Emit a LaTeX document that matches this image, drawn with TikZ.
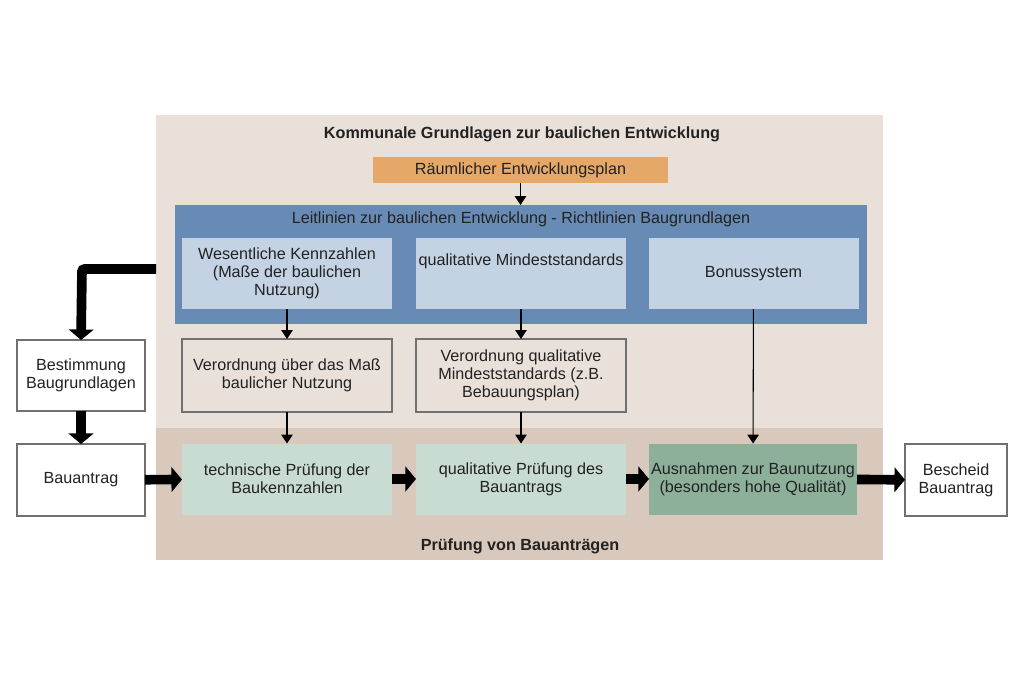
\documentclass[tikz,border=0pt]{standalone}
\usepackage{fontspec}
\setmainfont{Liberation Sans}
\usetikzlibrary{arrows.meta,positioning,calc}
\definecolor{upbg}{HTML}{E9E0D9}
\definecolor{lowbg}{HTML}{D9C9BD}
\definecolor{orng}{HTML}{E6A869}
\definecolor{leit}{HTML}{688BB5}
\definecolor{pale}{HTML}{C4D3E4}
\definecolor{mint}{HTML}{C8DCD2}
\definecolor{sage}{HTML}{8CB09A}
\definecolor{edge}{HTML}{707070}
\definecolor{txt}{HTML}{222222}
\tikzset{>=Triangle,base/.style={inner sep=0pt,outer sep=0pt,align=center,text=txt,font=\fontsize{9.2}{10.4}\selectfont},
panel/.style={base,minimum width=210*0.02cm,minimum height=71*0.02cm},
kenn/.style={panel,fill=pale},vo/.style={panel,fill=upbg,draw=edge,line width=0.7pt,minimum height=73*0.02cm},
pr/.style={panel,fill=mint},side/.style={base,fill=white,draw=edge,line width=0.7pt,minimum height=72*0.02cm},
heading/.style={base,font=\fontsize{9.2}{10.4}\selectfont\bfseries},
thin/.style={-{Triangle[length=5pt,width=6.5pt]},line width=0.6pt,black},
fat/.style={-{Triangle[length=6pt,width=14pt]},line width=5.5pt,black,rounded corners=1.5pt}}
\begin{document}
\begin{tikzpicture}[x=0.02cm,y=-0.02cm]
\useasboundingbox (0,0) rectangle (1024,683);
% Hintergrundflaechen
\node[base,fill=upbg,minimum width=727*0.02cm,minimum height=313*0.02cm] (oben) at (519.5,271.5) {};
\node[base,fill=lowbg,minimum width=727*0.02cm,minimum height=132*0.02cm] (unten) at (519.5,494) {};
\node[heading] (ktitel) at (522,134) {Kommunale Grundlagen zur baulichen Entwicklung};
\node[heading] (ptitel) at (520,546) {Prüfung von Bauanträgen};
% Planungsebene
\node[base,fill=orng,minimum width=295*0.02cm,minimum height=26*0.02cm] (rep) at (520.5,170) {\raisebox{-1pt}{Räumlicher Entwicklungsplan}};
\node[base,fill=leit,minimum width=692*0.02cm,minimum height=119*0.02cm] (leit) at (521,264.5) {};
\node[base] (ltitel) at (521,219) {Leitlinien zur baulichen Entwicklung - Richtlinien Baugrundlagen};
\node[kenn] (kz) at (287,273.5) {Wesentliche Kennzahlen\\(Maße der baulichen\\Nutzung)};
\node[kenn] (qm) at (521,273.5) {qualitative Mindeststandards\\[5pt]};
\node[kenn] (bs) at (753.5,273.5) {\raisebox{-2pt}{Bonussystem}};
\node[vo] (vmass) at (287,375.5) {Verordnung über das Maß\\baulicher Nutzung};
\node[vo] (vqual) at (521,375.5) {Verordnung qualitative\\Mindeststandards (z.B.\\Bebauungsplan)};
% Pruefungsebene
\node[pr] (tp) at (287,479) {technische Prüfung der\\Baukennzahlen};
\node[pr] (qp) at (521,479) {qualitative Prüfung des\\Bauantrags};
\node[pr,fill=sage,minimum width=208*0.02cm] (aus) at (753,479) {Ausnahmen zur Baunutzung\\(besonders hohe Qualität)};
\node[side,minimum width=128*0.02cm,minimum height=71*0.02cm] (best) at (81,375.5) {Bestimmung\\Baugrundlagen};
\node[side,minimum width=128*0.02cm] (antrag) at (81,480) {\raisebox{-2pt}{Bauantrag}};
\node[side,minimum width=102*0.02cm] (bescheid) at (956,480) {Bescheid\\Bauantrag};
\coordinate (knick) at (82,269);
% Pfeile
\draw[thin] (rep) -- (leit.north -| rep);
\draw[thin] (kz) -- (vmass);\draw[thin] (qm) -- (vqual);
\draw[thin] (vmass) -- (tp);\draw[thin] (vqual) -- (qp);
\draw[thin] (bs) -- (aus);
\draw[fat] (oben.west |- knick) -- (knick) -- (best.north);
\draw[fat] (best) -- (antrag);
\draw[fat] (antrag) -- (tp);\draw[fat] (tp) -- (qp);\draw[fat] (qp) -- (aus);\draw[fat] (aus) -- (bescheid);
\end{tikzpicture}
\end{document}
